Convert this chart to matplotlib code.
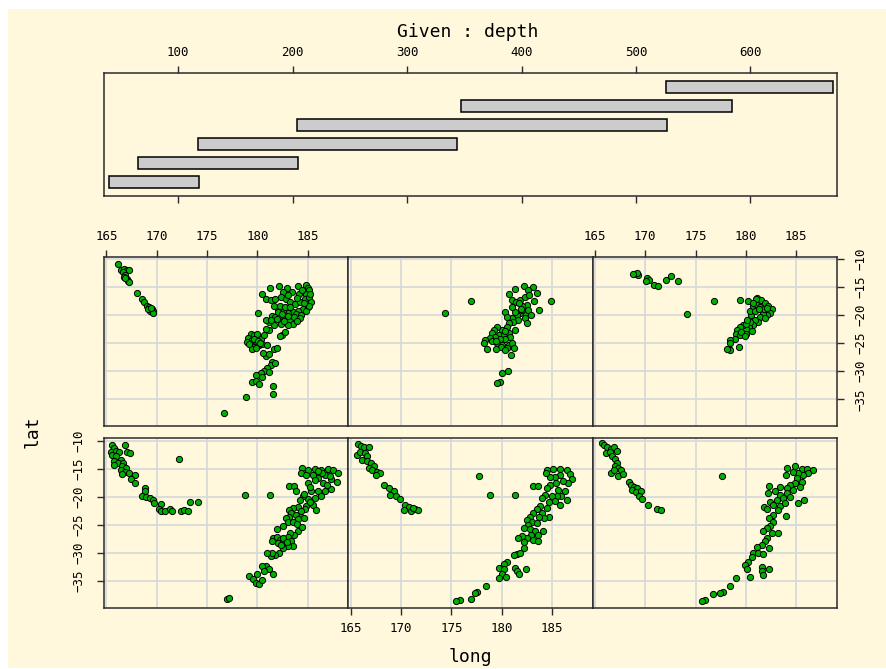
import matplotlib.pyplot as plt
from matplotlib.patches import Rectangle

# depth intervals used for conditioning (Given panel)
depth_lo = [39.5, 65.0, 117.5, 203.5, 347.5, 526.0]
depth_hi = [118.5, 205.0, 344.0, 527.0, 584.0, 672.0]
depth_ticks = [100, 200, 300, 400, 500, 600]

long_ticks = [165, 170, 175, 180, 185]
lat_ticks = [-10, -15, -20, -25, -30, -35]

# panel 1: depth 39.5 - 118.5 (bottom left)
p1_long = [165.6, 165.8, 165.5, 166.0, 166.3, 166.9, 167.1, 167.4, 165.6, 166.0,
           166.5, 165.8, 166.2, 166.7, 165.8, 166.6, 167.0, 166.5, 166.9, 167.3,
           166.6, 167.8, 167.5, 167.8, 168.8, 168.8, 168.5, 168.9, 169.3, 169.6,
           169.7, 170.4, 170.2, 170.4, 170.8, 171.3, 171.5, 172.4, 172.7, 173.1,
           173.3, 174.1, 172.2, 178.8, 181.3, 177.0, 177.2,
           184.4, 184.3, 185.0, 185.7, 186.3, 187.0, 187.5, 188.0, 187.9, 187.3,
           186.7, 186.0, 185.5, 185.0, 185.7, 186.5, 183.1, 183.6, 183.8, 185.3,
           186.0, 186.7, 187.3, 186.3, 185.7, 185.0, 184.5, 184.2, 185.5, 184.8,
           185.8, 184.7, 184.0, 183.5, 183.1, 183.3, 183.8, 184.3, 184.6, 184.0,
           183.1, 182.8, 183.0, 183.5, 182.5, 181.9, 184.0, 183.6, 183.2, 183.0,
           181.6, 181.9, 182.2, 182.5, 182.0, 181.5, 183.3, 183.5, 183.0, 182.5,
           182.1, 181.8, 181.4, 181.5, 181.0, 180.9, 181.2, 180.5, 180.7, 181.6,
           179.2, 180.0, 179.6, 179.9, 180.2, 180.5,
           186.4, 187.2, 186.0, 184.8, 185.2, 186.9, 184.6, 185.2, 184.3, 182.5,
           182.9, 182.3, 183.9, 184.4]
p1_lat = [-10.8, -11.4, -12.0, -11.8, -12.0, -10.8, -12.1, -12.2, -12.5, -12.8,
          -13.4, -13.7, -14.0, -13.9, -14.3, -14.6, -14.9, -15.2, -15.5, -15.7,
          -15.9, -16.1, -16.9, -17.6, -18.5, -19.0, -19.9, -20.0, -20.2, -20.5,
          -21.1, -21.2, -22.2, -22.6, -22.6, -22.2, -22.6, -22.6, -22.4, -22.6,
          -21.0, -21.0, -13.3, -19.6, -19.6, -38.1, -38.0,
          -14.9, -15.7, -15.3, -15.1, -15.2, -15.1, -15.3, -15.7, -17.3, -16.9,
          -16.1, -16.7, -16.1, -17.6, -17.0, -17.6, -18.0, -18.0, -18.9, -19.0,
          -18.9, -18.9, -18.6, -19.9, -20.2, -20.4, -19.9, -20.6, -21.4, -21.6,
          -22.4, -22.2, -21.8, -22.0, -22.4, -22.9, -23.2, -23.6, -23.8, -23.9,
          -23.6, -23.8, -24.4, -24.4, -25.1, -25.7, -26.0, -26.7, -26.4, -27.1,
          -27.3, -27.1, -27.6, -28.1, -28.2, -27.9, -27.9, -28.7, -28.8, -29.1,
          -30.0, -30.3, -30.6, -30.0, -29.9, -32.3, -32.8, -32.3, -33.2, -33.8,
          -34.0, -33.8, -34.6, -35.3, -35.4, -34.7,
          -15.8, -16.3, -15.4, -16.2, -18.3, -17.9, -19.5, -21.0, -22.6, -27.4,
          -28.0, -28.6, -24.9, -25.3]

# panel 2: depth 65 - 205 (bottom middle)
p2_long = [165.7, 166.0, 166.3, 166.8, 165.6, 165.9, 166.4, 166.6, 166.1, 166.6,
           167.0, 167.3, 166.8, 167.1, 167.6, 167.9, 167.5, 168.3, 168.8, 169.3,
           168.9, 169.5, 169.9, 170.4, 170.8, 170.3, 171.0, 171.4, 171.7, 171.2,
           177.7, 178.8, 181.3, 183.1, 183.6,
           184.5, 185.1, 185.8, 186.5, 186.8, 187.0, 186.6, 186.1, 185.8, 185.3,
           184.8, 184.4, 185.4, 184.8, 184.5, 185.6, 186.3, 186.5, 185.9, 185.5,
           185.0, 184.3, 184.0, 184.7, 185.3, 185.8, 184.5, 183.8, 183.5, 184.0,
           184.7, 184.2, 183.7, 183.1, 182.8, 182.5, 183.0, 183.5, 182.6, 182.2,
           182.8, 183.3, 183.6, 184.1, 182.9, 182.5, 182.0, 181.6, 182.2, 183.1,
           183.6, 182.2, 181.5, 181.2, 181.8, 180.5, 180.2, 179.7, 180.2, 180.0,
           180.4, 179.7, 181.3, 181.5, 181.7, 182.4, 178.4, 177.6, 177.4, 177.0,
           175.9, 175.5]
p2_lat = [-10.6, -10.9, -11.2, -11.2, -12.5, -12.0, -12.2, -12.8, -13.5, -13.7,
          -14.0, -14.6, -14.9, -15.2, -15.5, -15.8, -16.1, -17.9, -18.5, -19.0,
          -19.6, -19.8, -20.4, -21.4, -21.8, -22.4, -22.6, -22.2, -22.3, -22.0,
          -16.3, -19.6, -19.6, -18.0, -18.0,
          -15.3, -15.1, -15.1, -15.2, -15.9, -16.9, -17.6, -17.1, -16.1, -16.4,
          -16.4, -15.8, -17.6, -17.9, -18.5, -18.7, -19.0, -20.5, -19.9, -19.8,
          -19.8, -19.6, -20.2, -21.0, -20.8, -21.4, -22.0, -21.7, -22.2, -22.8,
          -23.5, -23.8, -23.5, -22.9, -23.5, -24.1, -24.4, -24.7, -25.0, -25.5,
          -25.8, -26.1, -26.7, -26.0, -26.7, -27.3, -27.0, -27.3, -28.1, -27.7,
          -27.9, -29.1, -30.1, -30.3, -30.0, -31.6, -32.0, -32.6, -32.9, -33.8,
          -34.2, -34.5, -32.6, -33.2, -33.8, -32.9, -35.9, -36.9, -37.0, -38.1,
          -38.4, -38.5]

# panel 3: depth 117.5 - 344 (bottom right)
p3_long = [165.7, 165.9, 166.2, 166.6, 166.9, 167.2, 166.1, 166.5, 166.7, 167.0,
           167.2, 167.0, 167.3, 167.6, 166.6, 166.9, 167.3, 167.8, 168.4, 168.6,
           168.9, 169.2, 168.7, 169.1, 169.6, 169.4, 169.7, 170.3, 171.2, 171.6,
           177.6,
           184.1, 184.9, 185.6, 186.1, 186.7, 186.2, 185.7, 185.2, 184.7, 184.0,
           185.1, 185.6, 184.9, 184.4, 185.4, 184.7, 184.1, 183.4, 182.3, 182.9,
           182.2, 183.4, 184.1, 184.4, 183.7, 183.1, 182.4, 181.8, 182.1, 182.7,
           183.4, 183.9, 185.2, 185.8, 183.2, 184.0, 182.7, 182.3, 182.7, 182.4,
           182.1, 181.7, 182.6, 183.2, 182.1, 181.9, 181.6, 181.1, 182.3, 180.7,
           181.2, 181.7, 180.6, 180.2, 179.9, 180.1, 181.6, 181.6, 181.7, 182.3,
           180.4, 179.0, 178.4, 177.7, 177.4, 176.7, 175.9, 175.6]
p3_lat = [-10.5, -10.8, -11.1, -11.5, -11.2, -11.8, -12.2, -12.1, -12.8, -13.3,
          -13.9, -14.5, -14.9, -15.2, -15.8, -15.3, -16.3, -15.9, -17.3, -17.9,
          -18.2, -18.5, -18.7, -19.2, -19.0, -19.8, -20.4, -21.4, -22.2, -22.3,
          -16.3,
          -14.9, -14.6, -15.1, -15.1, -15.2, -15.8, -16.1, -15.7, -15.5, -16.1,
          -16.7, -17.3, -17.6, -17.9, -18.2, -18.7, -18.5, -18.2, -18.0, -19.0,
          -19.3, -19.6, -19.3, -20.0, -20.2, -20.6, -21.0, -21.8, -22.2, -21.4,
          -21.6, -21.1, -21.1, -20.6, -22.4, -23.4, -23.2, -23.8, -24.4, -25.1,
          -25.5, -26.1, -26.4, -26.4, -27.3, -27.9, -28.5, -28.9, -29.1, -29.9,
          -30.0, -30.1, -30.7, -31.5, -32.2, -32.8, -32.5, -33.2, -33.9, -32.9,
          -34.2, -34.5, -35.9, -36.9, -37.0, -37.3, -38.3, -38.5]

# panel 4: depth 203.5 - 527 (top left)
p4_long = [166.2, 166.5, 166.8, 167.1, 167.3, 166.7, 166.9, 166.8, 167.1, 167.2,
           167.3, 166.9,
           168.0, 168.5, 168.7, 169.0, 169.2, 169.5, 169.3, 169.6, 169.1, 169.6,
           169.4,
           181.3, 182.1, 182.9, 184.0, 184.8, 185.0, 185.1, 184.8, 184.1, 183.4,
           182.5, 180.5, 180.9, 181.4, 181.8, 182.3, 182.8, 183.2, 183.7, 184.2,
           184.7, 185.1, 185.3, 185.0, 184.5, 184.0, 183.5, 183.0, 182.5, 182.0,
           181.7, 182.2, 182.7, 183.2, 183.8, 184.3, 184.8, 185.1, 181.5, 181.8,
           182.2, 182.7, 183.2, 183.5, 183.0, 182.3, 181.7, 181.2, 180.9, 181.4,
           180.1, 182.4, 182.7, 182.2,
           179.4, 179.7, 180.0, 179.1, 179.5, 179.9, 180.4, 180.7, 179.0, 179.4,
           179.7, 180.2, 180.5, 181.0, 181.2, 180.9, 179.5, 179.9, 181.7, 181.9,
           180.9, 181.5, 181.4, 181.0, 180.7, 180.4, 179.9, 180.5, 181.2, 179.5,
           179.9, 180.2, 181.6, 181.6, 178.9, 176.7,
           182.0, 182.4, 183.0, 183.6, 184.2, 181.9, 182.6, 183.9, 184.6, 183.9,
           183.0, 185.2, 184.4, 179.7, 180.1, 180.3, 179.2, 180.6, 181.2, 181.8]
p4_lat = [-10.9, -12.0, -11.8, -12.0, -11.9, -12.4, -12.8, -13.3, -13.6, -14.0,
          -14.1, -13.4,
          -16.1, -17.2, -17.7, -18.3, -18.6, -18.9, -19.3, -19.2, -19.0, -19.6,
          -18.8,
          -15.2, -14.9, -15.1, -14.9, -14.7, -15.2, -15.6, -16.2, -16.2, -15.9,
          -15.9, -16.3, -17.2, -17.4, -17.1, -16.8, -17.1, -17.7, -18.0, -17.6,
          -17.1, -16.8, -17.7, -18.6, -18.9, -19.2, -19.5, -19.7, -19.3, -18.9,
          -18.3, -18.3, -18.6, -18.6, -19.8, -19.9, -19.2, -18.3, -20.1, -20.4,
          -20.1, -20.5, -20.9, -21.5, -21.7, -21.5, -21.8, -21.2, -20.9, -20.9,
          -19.6, -23.6, -23.1, -23.8,
          -23.3, -23.6, -23.3, -24.1, -24.5, -24.8, -24.2, -23.6, -24.8, -25.4,
          -25.7, -25.4, -25.1, -25.4, -22.7, -22.5, -26.1, -25.9, -26.1, -25.9,
          -27.2, -28.3, -28.9, -29.5, -30.0, -30.4, -30.6, -31.0, -30.1, -32.0,
          -31.8, -32.2, -32.6, -34.0, -34.6, -37.4,
          -19.5, -19.8, -20.2, -20.3, -20.6, -20.7, -21.1, -21.0, -17.9, -16.9,
          -16.4, -16.2, -15.5, -24.2, -24.6, -25.0, -25.2, -26.7, -26.9, -28.6]

# panel 5: depth 347.5 - 584 (top middle)
p5_long = [177.0, 174.4, 184.9, 183.7, 181.3, 182.2, 183.1, 183.5, 182.6, 180.7,
           181.0, 181.4, 181.8, 182.3, 182.7, 183.2, 182.5, 182.0, 181.7, 180.3,
           182.3, 182.6, 182.9, 181.8, 181.5, 181.0, 181.6, 182.3, 182.5, 181.1,
           180.7, 180.5, 180.0, 179.5, 179.2, 179.0, 179.7, 180.2, 180.7, 181.3,
           180.8, 180.3, 179.8, 179.3, 178.8, 178.3, 178.2, 179.0, 179.5, 180.0,
           180.7, 181.0, 181.2, 180.5, 179.9, 179.4, 178.5, 180.9, 180.6, 180.0,
           179.8, 179.5, 180.5, 182.0,
           181.9, 181.3, 180.3, 179.4, 180.3, 181.0]
p5_lat = [-17.5, -19.6, -17.5, -19.1, -15.3, -14.8, -15.0, -16.0, -15.6, -16.3,
          -17.4, -17.6, -17.4, -16.8, -16.5, -17.5, -18.2, -18.4, -17.9, -19.5,
          -19.7, -19.1, -20.0, -19.7, -20.0, -20.6, -20.9, -20.6, -21.4, -21.2,
          -21.4, -22.1, -22.6, -22.1, -22.6, -23.2, -23.5, -23.5, -23.2, -22.6,
          -23.9, -24.3, -24.3, -23.9, -24.1, -24.4, -24.9, -24.7, -25.0, -25.3,
          -25.3, -25.0, -25.9, -25.9, -25.7, -26.1, -26.1, -27.1, -30.0, -30.4,
          -31.9, -32.1, -20.3, -19.1,
          -18.9, -19.4, -22.9, -24.7, -26.3, -18.6]

# panel 6: depth 526 - 672 (top right)
p6_long = [169.1, 169.3, 169.2, 168.8, 170.2, 170.4, 170.1, 170.9, 171.3, 172.1,
           172.6, 173.3, 176.8, 174.2, 179.4, 180.2, 181.1, 181.5, 181.9, 182.2,
           182.6, 182.4, 182.1, 181.7, 181.4, 181.2, 180.9, 180.5, 180.4, 180.7,
           181.0, 181.4, 181.8, 180.9, 180.7, 180.3, 180.0, 180.0, 179.7, 179.4,
           179.1, 179.0, 179.4, 178.9, 178.4, 178.4, 179.3, 178.3, 178.4, 178.1,
           180.4, 180.0, 181.0, 180.7, 182.1, 179.5,
           181.3, 181.9, 180.6, 179.9, 180.1]
p6_lat = [-12.7, -12.8, -12.5, -12.7, -13.4, -13.7, -14.0, -14.6, -14.9, -13.7,
          -13.1, -14.0, -17.5, -19.8, -17.3, -17.5, -16.9, -17.4, -17.8, -18.3,
          -19.0, -19.6, -20.0, -19.8, -20.3, -21.2, -20.9, -20.0, -19.2, -18.3,
          -18.0, -18.6, -19.0, -19.2, -21.8, -22.1, -22.5, -23.3, -21.8, -22.1,
          -22.7, -23.3, -23.6, -24.2, -24.5, -24.9, -25.7, -26.0, -26.3, -26.1,
          -21.2, -21.5, -17.2, -17.8, -18.8, -23.0,
          -18.9, -20.6, -22.9, -23.8, -20.8]

panel_long = [p1_long, p2_long, p3_long, p4_long, p5_long, p6_long]
panel_lat = [p1_lat, p2_lat, p3_lat, p4_lat, p5_lat, p6_lat]

W, H = 886, 669
BG = "#fff8dc"
EDGE = "#2b2b2b"
GRID = "#d9d9d9"
FONT = "DejaVu Sans Mono"

plt.rcParams["font.family"] = FONT
plt.rcParams["font.size"] = 9


def px_box(x0, y0, x1, y1):
    """Axes rect in figure fraction from pixel corners (top-left origin)."""
    return [x0 / W, 1 - y1 / H, (x1 - x0) / W, (y1 - y0) / H]


def style_frame(ax):
    ax.set_facecolor(BG)
    for spine in ax.spines.values():
        spine.set_edgecolor(EDGE)
        spine.set_linewidth(1.1)
    ax.tick_params(colors=EDGE, labelcolor="black", width=1.0)


fig = plt.figure(figsize=(W / 100, H / 100), dpi=100)
fig.patch.set_facecolor("white")
fig.add_artist(Rectangle((8 / W, 1 / H), 1 - 8 / W, (667 - 8) / H,
                         transform=fig.transFigure, facecolor=BG,
                         edgecolor="none", zorder=-10))

# Given panel
gax = fig.add_axes(px_box(104, 73, 836.7, 196))
style_frame(gax)
for i, (lo, hi) in enumerate(zip(depth_lo, depth_hi)):
    gax.add_patch(Rectangle((lo, i + 1 - 0.3), hi - lo, 0.6,
                            facecolor="#cccccc", edgecolor="black", linewidth=1.1))
gax.set_xlim(35.2, 675.4)
gax.set_ylim(0.26, 6.74)
gax.set_yticks([])
gax.set_xticks(depth_ticks)
gax.tick_params(axis="x", which="both", top=True, bottom=True,
                labeltop=True, labelbottom=False, length=5, direction="out", pad=5)
fig.text(468 / W, 1 - 32 / H, "Given : depth", ha="center", va="center", fontsize=13)

# scatter panels
col_x = [104, 348.3, 592.6, 836.7]
row_y = [(256.7, 425.7), (438.3, 607.7)]

for i in range(6):
    row = 1 if i < 3 else 0
    col = i % 3
    y0, y1 = row_y[row]
    ax = fig.add_axes(px_box(col_x[col], y0, col_x[col + 1], y1))
    style_frame(ax)
    ax.set_xlim(164.77, 189.03)
    ax.set_ylim(-39.70, -9.60)
    ax.set_xticks(long_ticks)
    ax.set_yticks(lat_ticks)
    ax.grid(True, color=GRID, linewidth=1.3)
    ax.set_axisbelow(True)
    ax.scatter(panel_long[i], panel_lat[i], s=20, facecolor="#00b000",
               edgecolor="black", linewidth=0.7, zorder=3)

    show_top = row == 0 and col in (0, 2)
    show_bottom = row == 1 and col == 1
    ax.tick_params(axis="x", top=show_top, labeltop=show_top,
                   bottom=show_bottom, labelbottom=show_bottom,
                   length=5, pad=5)
    show_right = row == 0 and col == 2
    show_left = row == 1 and col == 0
    ax.tick_params(axis="y", left=show_left, labelleft=show_left,
                   right=show_right, labelright=show_right,
                   length=5, pad=8, labelrotation=90)
    for lab in ax.get_yticklabels():
        lab.set_va("center")

fig.text(33 / W, 1 - 432 / H, "lat", rotation=90, ha="center", va="center", fontsize=13)
fig.text(470 / W, 1 - 657 / H, "long", ha="center", va="center", fontsize=13)

fig.savefig("out.png", dpi=100, facecolor=fig.get_facecolor())
